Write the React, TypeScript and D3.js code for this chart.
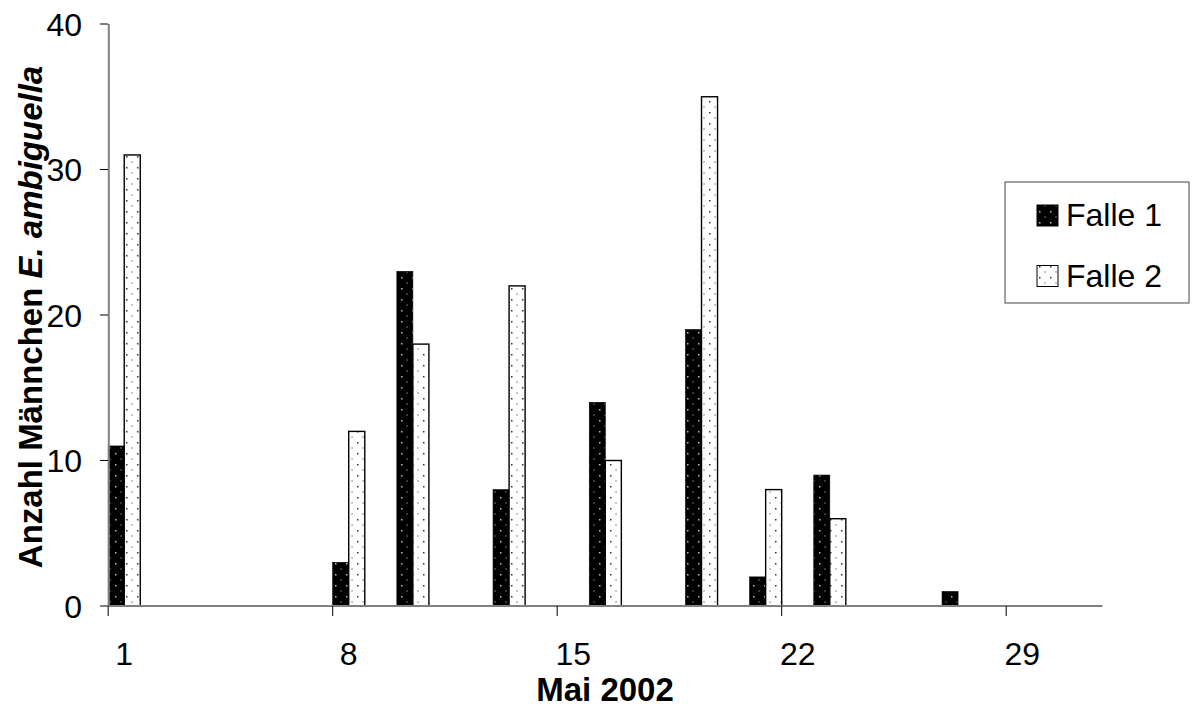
import React from "react";
import * as d3 from "d3";

const days = d3.range(1, 32);
const barDays = [1, 8, 10, 13, 16, 19, 21, 23, 27];
const falle1 = [11, 3, 23, 8, 14, 19, 2, 9, 1];
const falle2 = [31, 12, 18, 22, 10, 35, 8, 6, 0];
const seriesNames = ["Falle 1", "Falle 2"];
const xTickDays = [1, 8, 15, 22, 29];
const yTicks = [0, 10, 20, 30, 40];

const W = 1192;
const H = 709;
const FONT = "'Liberation Sans', Arial, Helvetica, sans-serif";
const FS = 32;
const TFS = 33;

export default function App() {
  const x = d3
    .scaleBand<number>()
    .domain(days)
    .range([108.2, 1102.4])
    .paddingInner(0)
    .paddingOuter(0);
  const xs = d3.scaleBand<string>().domain(seriesNames).range([0, x.bandwidth()]).padding(0);
  const y = d3.scaleLinear().domain([0, 40]).range([606, 24]);

  const series = [falle1, falle2];
  const fills = ["url(#patBlack)", "url(#patWhite)"];

  return (
    <svg
      width={W}
      height={H}
      style={{ position: "absolute", left: 0, top: 0, background: "#fff" }}
      fontFamily={FONT}
    >
      <defs>
        <pattern id="patBlack" patternUnits="userSpaceOnUse" width={11} height={11}>
          <rect width={11} height={11} fill="#000" />
          <rect x={5} y={2} width={1.5} height={1.5} fill="#c0c0c0" />
          <rect x={-0.7} y={7.5} width={1.5} height={1} fill="#909090" />
          <rect x={10.3} y={7.5} width={1.5} height={1} fill="#909090" />
        </pattern>
        <pattern id="patWhite" patternUnits="userSpaceOnUse" width={11} height={11}>
          <rect width={11} height={11} fill="#fff" />
          <rect x={5} y={2} width={1.5} height={1.5} fill="#333" />
          <rect x={-0.7} y={7.5} width={1.5} height={1} fill="#666" />
          <rect x={10.3} y={7.5} width={1.5} height={1} fill="#666" />
        </pattern>
      </defs>

      {/* bars */}
      {series.map((vals, si) =>
        barDays.map((d, i) => {
          const v = vals[i];
          if (!v) return null;
          const bx = (x(d) as number) + (xs(seriesNames[si]) as number);
          const by = y(v);
          return (
            <rect
              key={`${si}-${d}`}
              x={bx}
              y={by}
              width={xs.bandwidth()}
              height={y(0) - by}
              fill={fills[si]}
              stroke="#000"
              strokeWidth={si === 1 ? 1.4 : 0.6}
            />
          );
        })
      )}

      {/* y axis */}
      <line x1={108.8} x2={108.8} y1={y(40)} y2={y(0)} stroke="#808080" strokeWidth={2} />
      {yTicks.map((t) => (
        <g key={t}>
          <line x1={100} x2={108} y1={y(t)} y2={y(t)} stroke="#000" strokeWidth={1} />
          <text x={82} y={y(t)} dy="0.36em" textAnchor="end" fontSize={FS} fill="#000">
            {t}
          </text>
        </g>
      ))}

      {/* x axis */}
      <line x1={108} x2={1102.4} y1={y(0)} y2={y(0)} stroke="#808080" strokeWidth={2} />
      {xTickDays.map((d) => {
        const left = x(d) as number;
        return (
          <g key={d}>
            <line x1={left} x2={left} y1={y(0)} y2={y(0) + 10} stroke="#000" strokeWidth={1} />
            <text x={left + x.bandwidth() / 2} y={665} textAnchor="middle" fontSize={FS} fill="#000">
              {d}
            </text>
          </g>
        );
      })}

      {/* axis titles */}
      <text x={605} y={701} textAnchor="middle" fontSize={TFS} fontWeight="bold" fill="#000">
        Mai 2002
      </text>
      <text
        transform="translate(42,317) rotate(-90)"
        textAnchor="middle"
        fontSize={TFS}
        fontWeight="bold"
        fill="#000"
      >
        <tspan>Anzahl Männchen </tspan>
        <tspan fontStyle="italic">E. ambiguella</tspan>
      </text>

      {/* legend */}
      <rect x={1005} y={182} width={184} height={121} fill="#fff" stroke="#444" strokeWidth={1} />
      {seriesNames.map((name, i) => (
        <g key={name}>
          <rect
            x={1037}
            y={205 + i * 60.5}
            width={21}
            height={21}
            fill={fills[i]}
            stroke="#000"
            strokeWidth={1}
          />
          <text x={1066} y={226 + i * 60.5} fontSize={FS} fill="#000">
            {name}
          </text>
        </g>
      ))}
    </svg>
  );
}
